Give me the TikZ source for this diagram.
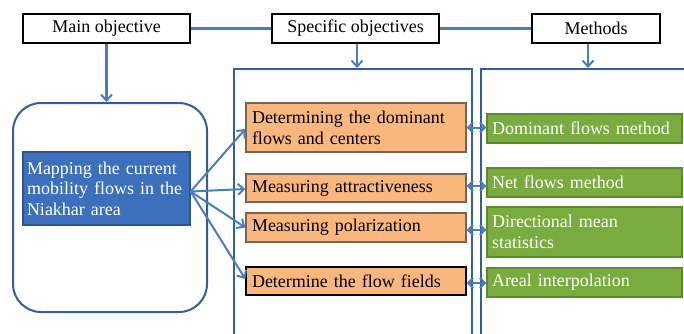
\documentclass[tikz,border=0pt]{standalone}
\usepackage{fontspec}
\setmainfont{Liberation Serif}
\usetikzlibrary{arrows.meta,calc}
\definecolor{linkblue}{RGB}{74,126,187}
\definecolor{frameblue}{RGB}{50,94,158}
\definecolor{bluefill}{RGB}{61,112,188}
\definecolor{blueedge}{RGB}{45,84,148}
\definecolor{orangefill}{RGB}{249,183,125}
\definecolor{orangeedge}{RGB}{120,100,85}
\definecolor{greenfill}{RGB}{122,171,62}
\definecolor{greenedge}{RGB}{94,138,46}
\tikzset{
  txt/.style={font=\fontsize{18}{21}\selectfont},
  headbox/.style={txt, draw=black, line width=2pt, fill=white, minimum height=29pt, inner sep=0pt, align=center},
  bigbox/.style={draw=frameblue, line width=2pt, inner sep=0pt},
  obox/.style={txt, draw=orangeedge, line width=1.3pt, fill=orangefill, inner xsep=6pt, inner ysep=0pt, text width=208pt, align=left},
  gbox/.style={txt, draw=greenedge, line width=1.3pt, fill=greenfill, text=white, inner xsep=5pt, inner ysep=0pt, text width=185pt, align=left},
  hlink/.style={draw=linkblue, line width=3.4pt},
  downarrow/.style={draw=linkblue, line width=2.1pt, -{Straight Barb[length=6pt,width=11pt,line width=2pt]}},
  fanarrow/.style={draw=linkblue, line width=2pt, -{Straight Barb[length=6pt,width=11pt,line width=2pt]}},
  duoarrow/.style={draw=linkblue, line width=2pt, {Straight Barb[length=5pt,width=10pt,line width=2pt]}-{Straight Barb[length=5pt,width=10pt,line width=2pt]}}
}
\begin{document}
\begin{tikzpicture}[x=1pt,y=-1pt]
\useasboundingbox (0,0) rectangle (684,333);
\fill[white] (0,0) rectangle (684,333);

% large frames
\node[bigbox, minimum width=194pt, minimum height=209pt, rounded corners=28pt] (frame) at (110,207.5) {};
\node[bigbox, minimum width=238pt, minimum height=280pt] (specframe) at (353,209) {};
\node[bigbox, minimum width=222pt, minimum height=280pt] (methframe) at (592,209) {};

% headers
\node[headbox, minimum width=167pt] (main) at (106.5,28.5) {Main objective};
\node[headbox, minimum width=167pt] (spec) at (355.5,28.5) {Specific objectives};
\node[headbox, minimum width=128pt] (meth) at (596,28.5) {Methods};
\draw[hlink] (main.east) -- (spec.west);
\draw[hlink] (spec.east) -- (meth.west);

\draw[downarrow] (main.south) -- (main.south |- frame.north);
\draw[downarrow] ($(spec.south)+(1.5,0)$) -- ($(spec.south |- specframe.north)+(1.5,0)$);
\draw[downarrow] ($(meth.south)+(-8,0)$) -- ($(meth.south |- methframe.north)+(-8,0)$);

% main objective content
\node[txt, draw=blueedge, line width=1.3pt, fill=bluefill, text=white, inner xsep=4pt, inner ysep=0pt, text width=159pt, minimum height=73pt, align=left, font=\fontsize{18}{20.5}\selectfont] (blue) at (106.5,188.5) {Mapping the current\\mobility flows in the\\Niakhar area};

% specific objectives
\node[obox, minimum height=49pt] (o1) at (356,127.5) {Determining the dominant\\flows and centers};
\node[obox, minimum height=28pt] (o2) at (356,188) {Measuring attractiveness};
\node[obox, minimum height=29pt] (o3) at (356,227.5) {Measuring polarization};
\node[obox, minimum height=28pt, draw=black] (o4) at (356,281) {Determine the flow fields};

% methods
\node[gbox, minimum height=29pt] (g1) at (584.5,128.5) {Dominant flows method};
\node[gbox, minimum height=29pt] (g2) at (584.5,182.5) {Net flows method};
\node[gbox, minimum height=50pt] (g3) at (584.5,232) {Directional mean\\statistics};
\node[gbox, minimum height=29pt] (g4) at (584.5,282.5) {Areal interpolation};

% fan arrows
\coordinate (src) at ($(blue.east)+(0,3)$);
\draw[fanarrow] (src) -- ($(o1.west)+(0,1.5)$);
\draw[fanarrow] (src) -- ($(o2.west)+(0,1)$);
\draw[fanarrow] (src) -- (o3.west);
\draw[fanarrow] (src) -- ($(o4.west)+(0,-2)$);

% double arrows
\draw[duoarrow] (o1.east) -- (o1.east -| g1.west);
\draw[duoarrow] ($(o2.east)+(0,-2)$) -- ($(o2.east -| g2.west)+(0,-2)$);
\draw[duoarrow] ($(o3.east)+(0,2.5)$) -- ($(o3.east -| g3.west)+(0,2.5)$);
\draw[duoarrow] ($(o4.east)+(0,2)$) -- ($(o4.east -| g4.west)+(0,2)$);
\end{tikzpicture}
\end{document}
